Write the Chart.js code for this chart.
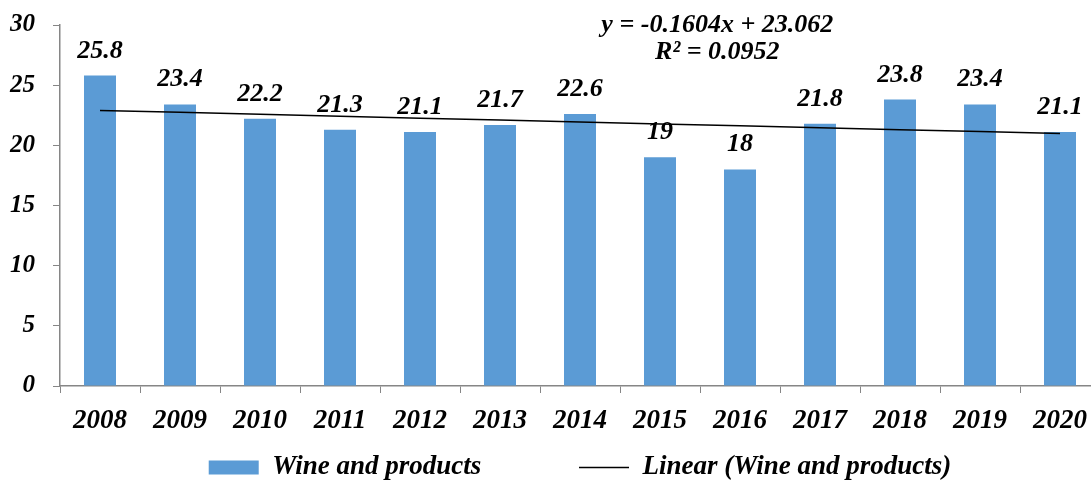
<!DOCTYPE html>
<html>
<head>
<meta charset="utf-8">
<script src="https://cdn.jsdelivr.net/npm/chart.js@4.4.1/dist/chart.umd.min.js"></script>
<style>
  html, body { margin: 0; padding: 0; overflow: hidden; background: #fff; }
  #wrap { width: 1120px; height: 491px; }
</style>
</head>
<body>
<div id="wrap"><canvas id="wineChart" width="1120" height="491"></canvas></div>
<script>
const years = ["2008", "2009", "2010", "2011", "2012", "2013", "2014", "2015", "2016", "2017", "2018", "2019", "2020"];
const wineValues = [25.8, 23.4, 22.2, 21.3, 21.1, 21.7, 22.6, 19, 18, 21.8, 23.8, 23.4, 21.1];
// trend values as given by the fitted line printed on the chart
const trendValues = [22.90, 22.74, 22.58, 22.42, 22.26, 22.10, 21.94, 21.78, 21.62, 21.46, 21.30, 21.14, 20.98];
const yTicks = [0, 5, 10, 15, 20, 25, 30];
const equationLines = ["y = -0.1604x + 23.062", "R\u00b2 = 0.0952"];

const serif = "'Liberation Serif', 'Times New Roman', serif";
const barColor = "#5B9BD5";
const axisColor = "#868686";

const valueLabelPlugin = {
  id: "valueLabels",
  afterDatasetsDraw(chart) {
    const { ctx } = chart;
    const meta = chart.getDatasetMeta(0);
    ctx.save();
    ctx.fillStyle = "#000";
    ctx.font = "italic bold 26px " + serif;
    ctx.textAlign = "center";
    ctx.textBaseline = "alphabetic";
    meta.data.forEach((bar, i) => {
      ctx.fillText(String(wineValues[i]), bar.x, bar.y - 18);
    });
    ctx.restore();
  }
};

const equationPlugin = {
  id: "equation",
  afterDraw(chart) {
    const { ctx, chartArea } = chart;
    const x = chartArea.left + (chartArea.right - chartArea.left) * 0.632;
    ctx.save();
    ctx.fillStyle = "#000";
    ctx.font = "italic bold 26px " + serif;
    ctx.textAlign = "center";
    ctx.textBaseline = "middle";
    ctx.fillText(equationLines[0], x, chartArea.top);
    ctx.fillText(equationLines[1], x, chartArea.top + 27);
    ctx.restore();
  }
};

new Chart(document.getElementById("wineChart"), {
  type: "bar",
  data: {
    labels: years,
    datasets: [
      {
        label: "Wine and products",
        data: wineValues,
        backgroundColor: barColor,
        barPercentage: 0.4,
        categoryPercentage: 1.0,
        order: 2
      },
      {
        type: "line",
        label: "Linear (Wine and products)",
        data: trendValues,
        borderColor: "#000",
        borderWidth: 1.5,
        pointRadius: 0,
        fill: false,
        tension: 0,
        order: 1
      }
    ]
  },
  options: {
    responsive: false,
    animation: false,
    layout: { padding: { top: 25, right: 20, left: 0, bottom: 0 } },
    plugins: {
      tooltip: { enabled: false },
      legend: {
        position: "bottom",
        fullSize: false,
        labels: {
          usePointStyle: true,
          pointStyleWidth: 50,
          padding: 10,
          color: "#000",
          font: { family: serif, size: 27, style: "italic", weight: "bold" },
          generateLabels: () => [
            {
              text: "Wine and products" + " ".repeat(13),
              pointStyle: "line",
              lineWidth: 14,
              strokeStyle: barColor,
              fillStyle: barColor,
              datasetIndex: 0
            },
            {
              text: "Linear (Wine and products)",
              pointStyle: "line",
              lineWidth: 1.5,
              strokeStyle: "#000",
              fillStyle: "#000",
              datasetIndex: 1
            }
          ]
        }
      }
    },
    scales: {
      x: {
        grid: { display: true, drawOnChartArea: false, drawTicks: true, tickLength: 7, color: axisColor },
        border: { display: true, color: axisColor, width: 1.5 },
        ticks: {
          color: "#000",
          padding: 12,
          font: { family: serif, size: 27, style: "italic", weight: "bold" }
        },
        afterFit(scale) { scale.height = 58; }
      },
      y: {
        min: 0,
        max: 30,
        afterBuildTicks(scale) { scale.ticks = yTicks.map(v => ({ value: v })); },
        grid: { display: true, drawOnChartArea: false, drawTicks: true, tickLength: 7, color: axisColor },
        border: { display: true, color: axisColor, width: 1.5 },
        ticks: {
          color: "#000",
          padding: 18,
          font: { family: serif, size: 25, style: "italic", weight: "bold" }
        },
        afterFit(scale) {
          scale.width = 60;
          scale.paddingTop = 0;
          scale.paddingBottom = 0;
        }
      }
    }
  },
  plugins: [valueLabelPlugin, equationPlugin]
});
</script>
</body>
</html>
